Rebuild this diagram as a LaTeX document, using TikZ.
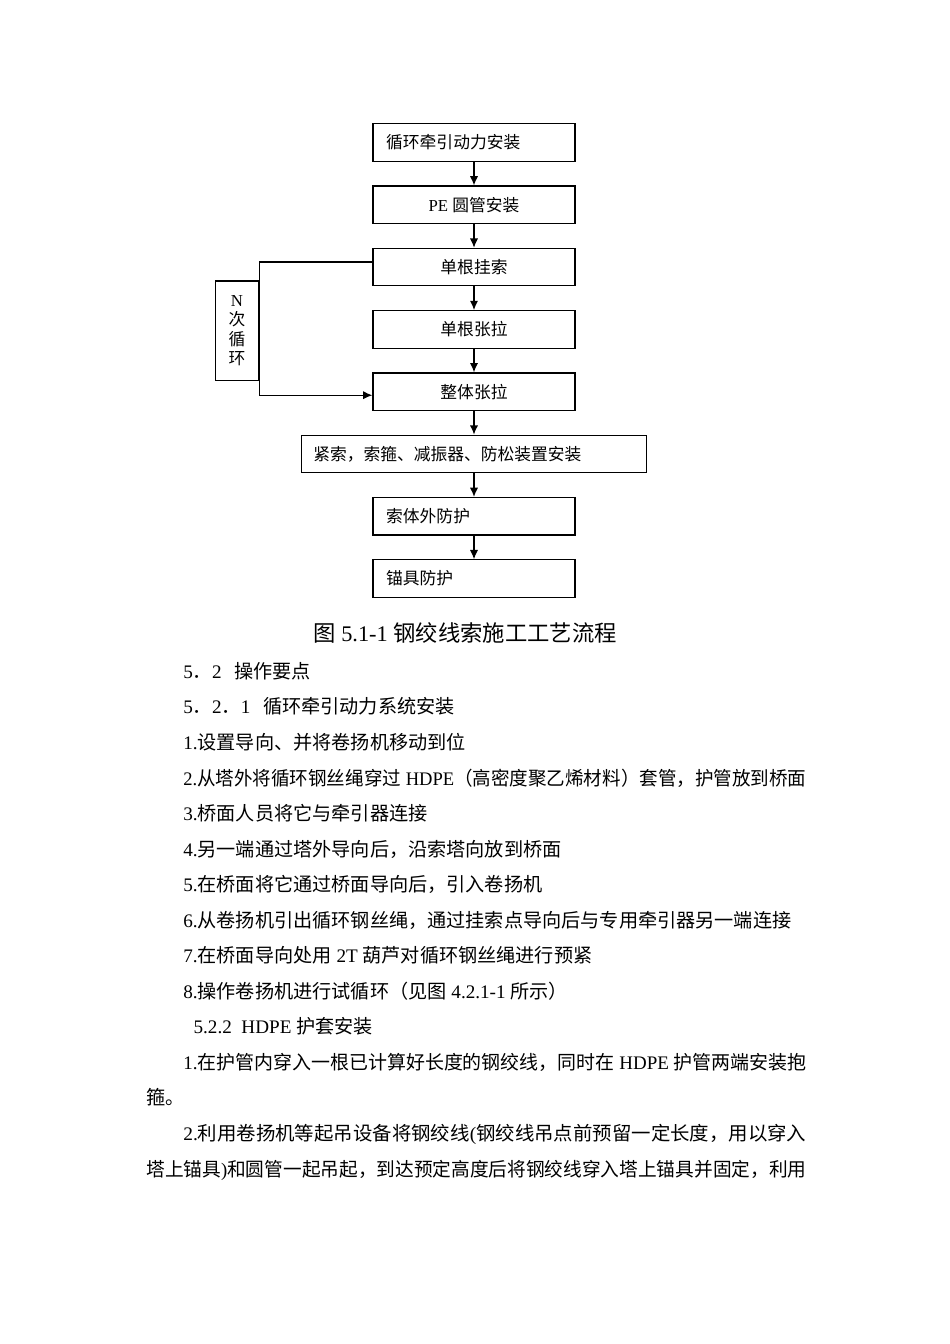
\documentclass[tikz,border=0pt]{standalone}
\usepackage{fontspec}
\setmainfont{Noto Sans CJK SC}
\newfontfamily\lat{Liberation Serif}
\usepackage{graphicx}
\usetikzlibrary{arrows.meta,positioning}

\newcommand{\boxfont}{\fontsize{10.5pt}{12.2pt}\selectfont}
\newcommand{\bodyfont}{\fontsize{12pt}{14.4pt}\selectfont}
\newcommand{\capfont}{\fontsize{14pt}{16.8pt}\selectfont}
\newcommand{\fitline}[2]{\resizebox{#1}{\height}{#2}}

\begin{document}
\begin{tikzpicture}[x=0.6266pt, y=-0.6266pt,
    >={Latex[length=5.8pt,width=5.2pt]},
    procbox/.style={draw, line width=0.8pt, minimum width=126.6pt,
        minimum height=23.5pt, inner sep=0pt, font=\boxfont},
    leftbox/.style={procbox, text width=110pt, align=left, inner xsep=8.3pt},
    widebox/.style={procbox, minimum width=215.9pt, text width=201.3pt,
        align=left, inner xsep=7.3pt},
    bodyline/.style={anchor=base west, inner sep=0pt, font=\bodyfont}]
    \useasboundingbox (0,0) rectangle (950,1344);

    % flow chart
    \node[leftbox] (b1) at (474,142.5) {循环牵引动力安装};
    \node[procbox] (b2) at (474,204.8) {{\lat PE\ }圆管安装};
    \node[procbox] (b3) at (474,267.1) {单根挂索};
    \node[procbox] (b4) at (474,329.4) {单根张拉};
    \node[procbox] (b5) at (474,391.7) {整体张拉};
    \node[widebox] (b6) at (474,454) {紧索，索箍、减振器、防松装置安装};
    \node[leftbox] (b7) at (474,516.3) {索体外防护};
    \node[leftbox] (b8) at (474,578.6) {锚具防护};
    \node[draw, line width=0.8pt, minimum width=27.2pt, minimum height=62.5pt,
        inner sep=0pt, align=center, font=\boxfont] (loop) at (237,330.8)
        {{\lat N}\\次\\循\\环};

    \draw[line width=0.8pt, ->] (b1) -- (b2);
    \draw[line width=0.8pt, ->] (b2) -- (b3);
    \draw[line width=0.8pt, ->] (b3) -- (b4);
    \draw[line width=0.8pt, ->] (b4) -- (b5);
    \draw[line width=0.8pt, ->] (b5) -- (b6);
    \draw[line width=0.8pt, ->] (b6) -- (b7);
    \draw[line width=0.8pt, ->] (b7) -- (b8);
    \draw[line width=0.8pt, ->] ([yshift=3.2pt]b3.west) -| (loop.north east)
        -- (loop.south east) |- ([yshift=-2.2pt]b5.west);

    % caption and text
    \node[anchor=base west, inner sep=0pt, font=\capfont] (cap) at (313,641)
        {图{\lat\ 5.1-1 }钢绞线索施工工艺流程};
    \node[bodyline] (t1) at (183,678.3) {{\lat 5}．{\lat 2}\hspace{8pt}操作要点};
    \node[bodyline] (t2) at (183,713.9) {{\lat 5}．{\lat 2}．{\lat 1}\hspace{8pt}循环牵引动力系统安装};
    \node[bodyline] (t3) at (183,749.4) {{\lat 1.}设置导向、并将卷扬机移动到位};
    \node[bodyline] (t4) at (183,785) {\fitline{390.4pt}{{\lat 2.}从塔外将循环钢丝绳穿过{\lat\ HDPE}（高密度聚乙烯材料）套管，护管放到桥面}};
    \node[bodyline] (t5) at (183,820.5) {{\lat 3.}桥面人员将它与牵引器连接};
    \node[bodyline] (t6) at (183,856.1) {{\lat 4.}另一端通过塔外导向后，沿索塔向放到桥面};
    \node[bodyline] (t7) at (183,891.6) {{\lat 5.}在桥面将它通过桥面导向后，引入卷扬机};
    \node[bodyline] (t8) at (183,927.2) {{\lat 6.}从卷扬机引出循环钢丝绳，通过挂索点导向后与专用牵引器另一端连接};
    \node[bodyline] (t9) at (183,962.7) {{\lat 7.}在桥面导向处用{\lat\ 2T }葫芦对循环钢丝绳进行预紧};
    \node[bodyline] (t10) at (183,998.3) {{\lat 8.}操作卷扬机进行试循环（见图{\lat\ 4.2.1-1 }所示）};
    \node[bodyline] (t11) at (193.3,1033.8) {{\lat 5.2.2\ \ HDPE }护套安装};
    \node[bodyline] (t12) at (183,1069.4) {\fitline{390.4pt}{{\lat 1.}在护管内穿入一根已计算好长度的钢绞线，同时在{\lat\ HDPE }护管两端安装抱}};
    \node[bodyline] (t13) at (146,1104.9) {箍。};
    \node[bodyline] (t14) at (183,1140.5) {\fitline{390.4pt}{{\lat 2.}利用卷扬机等起吊设备将钢绞线{\lat (}钢绞线吊点前预留一定长度，用以穿入}};
    \node[bodyline] (t15) at (146,1176) {\fitline{413.6pt}{塔上锚具{\lat )}和圆管一起吊起，到达预定高度后将钢绞线穿入塔上锚具并固定，利用}};
\end{tikzpicture}
\end{document}
